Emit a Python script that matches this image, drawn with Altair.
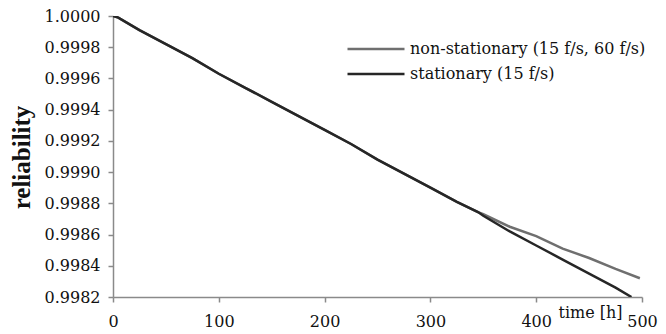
import altair as alt
import pandas as pd

# time [h]
t_stat = [0, 5, 25, 50, 75, 100, 125, 150, 175, 200, 225, 250, 275, 300, 325, 345,
          350, 375, 400, 425, 450, 475, 490]
r_stat = [1.00000, 0.99999, 0.99991, 0.99982, 0.99973, 0.99963, 0.99954, 0.99945,
          0.99936, 0.99927, 0.99918, 0.99908, 0.99899, 0.99890, 0.99881, 0.998744,
          0.99872, 0.99862, 0.99853, 0.99844, 0.99835, 0.99826, 0.99820]

t_non = [0, 5, 25, 50, 75, 100, 125, 150, 175, 200, 225, 250, 275, 300, 325, 345,
         350, 375, 400, 425, 450, 475, 498]
r_non = [1.00000, 0.99999, 0.99991, 0.99982, 0.99973, 0.99963, 0.99954, 0.99945,
         0.99936, 0.99927, 0.99918, 0.99908, 0.99899, 0.99890, 0.99881, 0.998744,
         0.99873, 0.99865, 0.99859, 0.99851, 0.99845, 0.99838, 0.99832]

series = ["non-stationary (15 f/s, 60 f/s)", "stationary (15 f/s)"]
colors = ["#6f6f6f", "#262626"]

x_ticks = [0, 100, 200, 300, 400, 500]
y_ticks = [0.9982, 0.9984, 0.9986, 0.9988, 0.9990, 0.9992, 0.9994, 0.9996, 0.9998, 1.0000]

df = pd.concat([
    pd.DataFrame({"t": t_non, "r": r_non, "s": series[0]}),
    pd.DataFrame({"t": t_stat, "r": r_stat, "s": series[1]}),
])

FONT = "DejaVu Serif"
TFONT = "Liberation Serif"

chart = alt.Chart(df).mark_line(strokeWidth=2.5, clip=True).encode(
    x=alt.X("t:Q", scale=alt.Scale(domain=[0, 500], nice=False),
            axis=alt.Axis(values=x_ticks, title="time [h]", grid=False, labelFlush=False,
                          titleX=477, titleY=15, titleAlign="center",
                          titleBaseline="middle", titleFontWeight="normal")),
    y=alt.Y("r:Q", scale=alt.Scale(domain=[0.9982, 1.0], nice=False, zero=False),
            axis=alt.Axis(values=y_ticks, format=".4f", title="reliability", grid=False,
                          labelFlush=False,
                          titleFont=TFONT, titleFontWeight="bold", titleFontSize=25,
                          titleX=-92, titleY=141, titleAlign="center",
                          titleBaseline="middle")),
    color=alt.Color("s:N", scale=alt.Scale(domain=series, range=colors),
                    legend=alt.Legend(title=None, orient="none", legendX=252, legendY=22,
                                      symbolType="M-3,0H3", symbolSize=361,
                                      symbolStrokeWidth=2.5, labelOffset=23,
                                      labelFont=FONT, labelFontSize=16, labelColor="#111",
                                      rowPadding=6, padding=0, labelLimit=400)),
    order=alt.Order("s:N", sort="ascending"),
).properties(
    width=529, height=281,
    autosize=alt.AutoSizeParams(type="none"),
    padding={"left": 105, "top": 8, "right": 16, "bottom": 34},
).configure_view(stroke=None).configure_axis(
    labelFont=FONT, titleFont=FONT, labelFontSize=16, titleFontSize=16,
    labelColor="#111", titleColor="#111", domainColor="#8a8a8a", tickColor="#8a8a8a",
    domainWidth=1.5, tickWidth=1.5, tickSize=5,
).configure_axisX(labelPadding=11).configure_axisY(labelPadding=8)

chart.save("out.html", embed_options={"renderer": "svg", "actions": False})
